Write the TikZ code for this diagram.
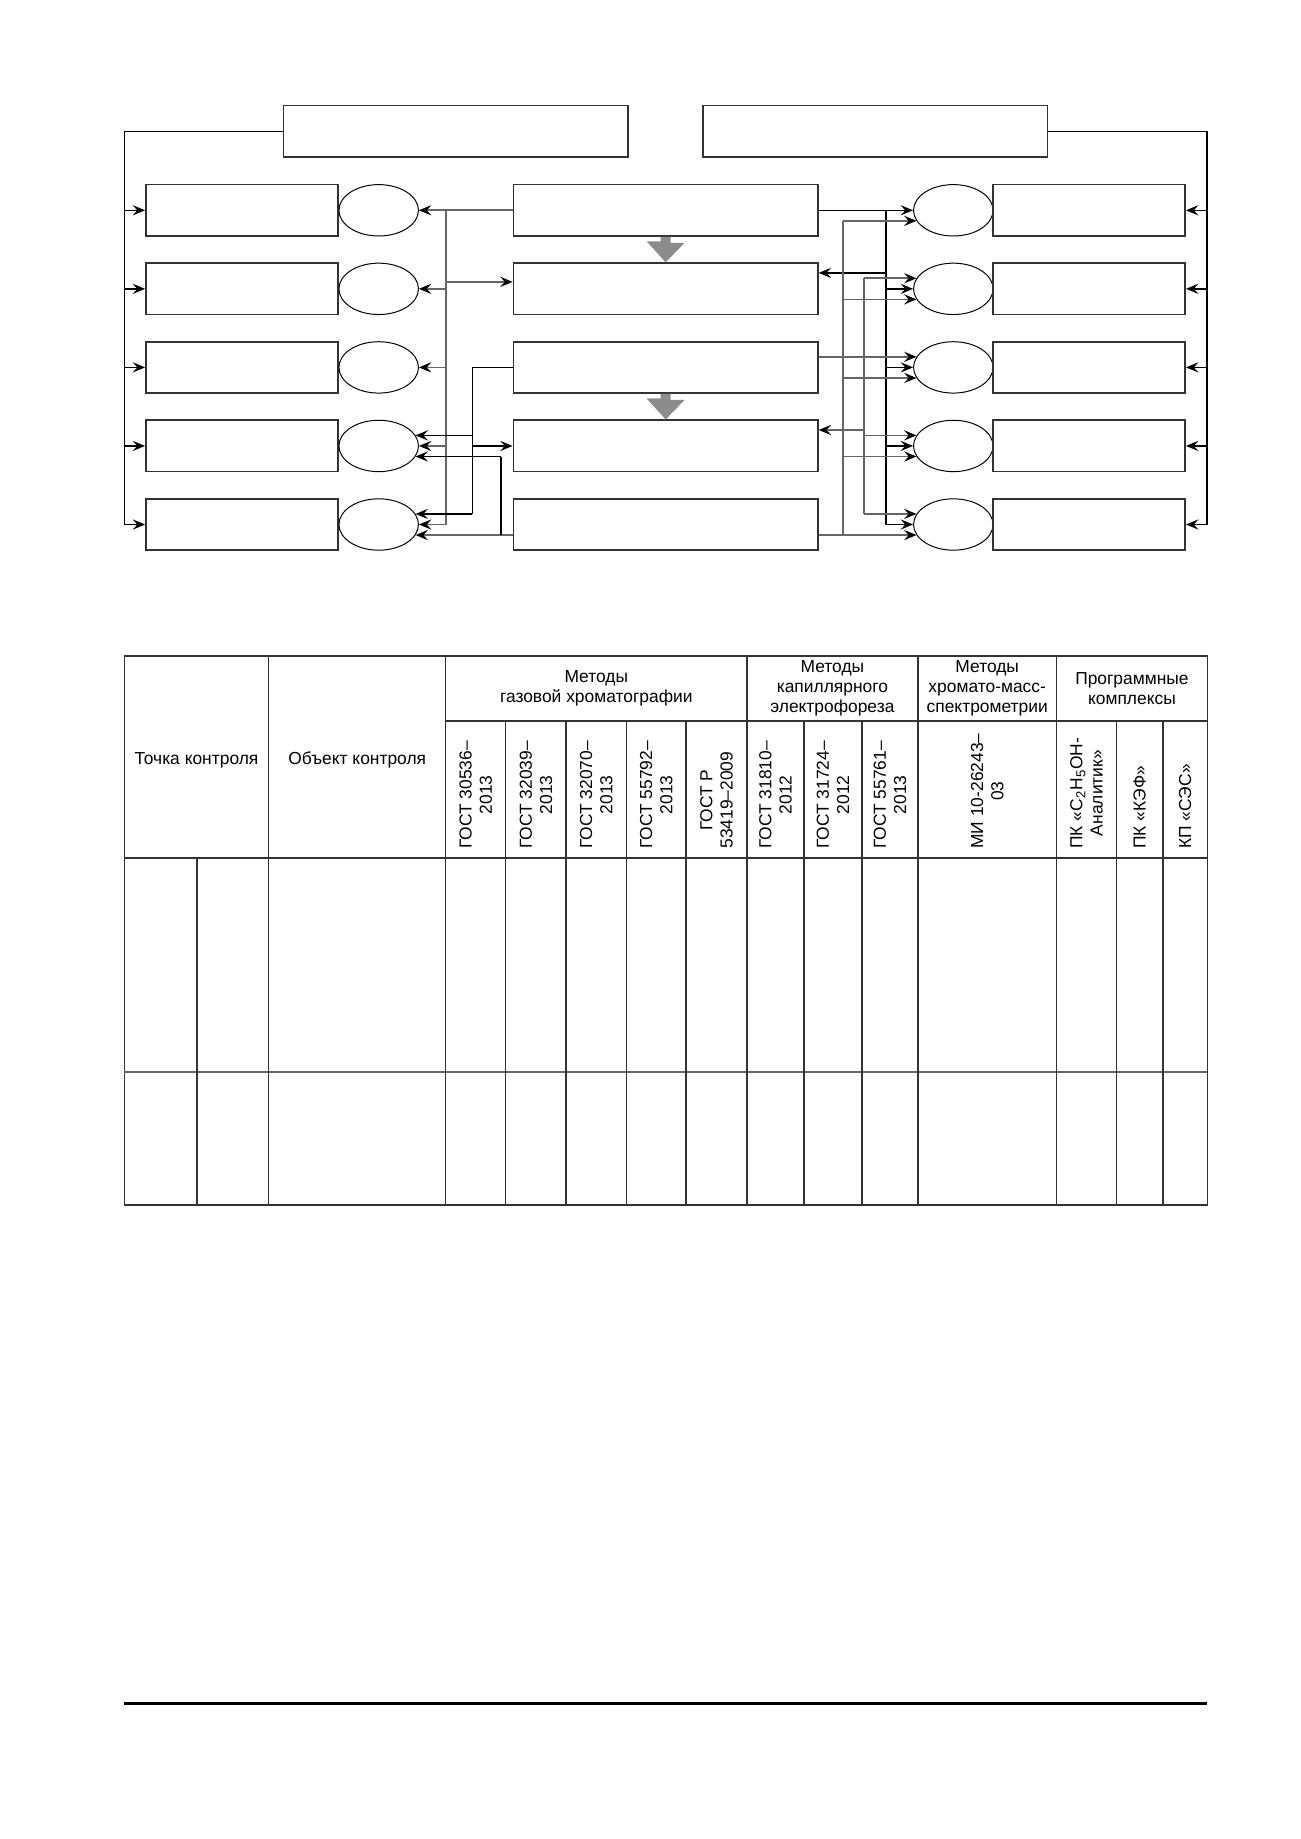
\documentclass[tikz,border=0pt]{standalone}
\usepackage{fontspec}
\setmainfont{Liberation Sans}
\usepackage{xcolor}
\usetikzlibrary{positioning, shapes.geometric, arrows.meta}
\definecolor{lineGray}{HTML}{666666}
\definecolor{blockGray}{HTML}{8C8C8E}
\definecolor{boxLine}{HTML}{333333}

\begin{document}
\begin{tikzpicture}[
  x=0.16154mm, y=-0.16154mm,
  font=\fontsize{8}{9.3}\selectfont,
  arr/.style={-{Stealth[length=2.0mm, width=1.65mm, inset=0.75mm, color=black]}},
  conn/.style={line width=0.22mm, black},
  conng/.style={line width=0.26mm, lineGray},
  sidebox/.style={draw=boxLine, line width=0.26mm, minimum width=31.05mm, minimum height=8.3mm, inner sep=0pt},
  centerbox/.style={sidebox, minimum width=49.19mm},
  headbox/.style={sidebox, minimum width=55.63mm, minimum height=8.29mm},
  ovalnode/.style={draw, ellipse, line width=0.16mm, minimum width=12.85mm, minimum height=8.3mm, inner sep=0pt},
  tline/.style={line width=0.24mm, boxLine},
  vtext/.style={rotate=90, anchor=west, align=center, inner sep=0pt}
]
  \useasboundingbox (0,0) rectangle (1300,1839);

  % --- Верхние блоки ---
  \node[headbox] (hl) at (455.6,131.35) {};
  \node[headbox] (hr) at (875.2,131.35) {};

  % --- Ряды: блок, овал, центральный блок, овал, блок ---
  \foreach \i in {1,...,5} {
    \pgfmathsetmacro{\ry}{210.3+78.55*(\i-1)}
    \node[sidebox]   (lb\i) at (242,\ry)    {};
    \node[ovalnode]  (le\i) at (378.7,\ry)  {};
    \node[centerbox] (cb\i) at (665.65,\ry) {};
    \node[ovalnode]  (re\i) at (953.3,\ry)  {};
    \node[sidebox]   (rb\i) at (1089.1,\ry) {};
  }

  % Вертикальные шины
  \coordinate (tl) at (124.2,0);
  \coordinate (tr) at (1207,0);
  \coordinate (gl) at (445.7,0);
  \coordinate (bl) at (472.3,0);
  \coordinate (vl) at (501,0);
  \coordinate (gr) at (842.8,0);
  \coordinate (mr) at (864.1,0);
  \coordinate (br) at (885.9,0);

  % --- Внешние линии ---
  \draw[conn] (hl.west) -| (tl |- lb5.west);
  \draw[conn] (hr.east) -| (tr |- rb5.east);
  \foreach \i in {1,...,5} {
    \draw[conn, arr] (tl |- lb\i.west) -- (lb\i.west);
    \draw[conn, arr] (tr |- rb\i.east) -- (rb\i.east);
  }

  % --- Левая сторона ---
  \coordinate (c2l) at ([yshift=1.13mm]cb2.west);
  \draw[conng, arr] (cb1.west) -- (le1.east);
  \draw[conng] (gl |- cb1.west) -- (gl |- le5.east);
  \foreach \i in {2,...,5}
    \draw[conng, arr] (gl |- le\i.east) -- (le\i.east);
  \draw[conng, arr] (gl |- c2l) -- (c2l);

  \draw[conn] (cb3.west) -| (bl |- le5.16);
  \draw[conn, arr] (bl |- le5.16) -- (le5.16);
  \draw[conn, arr] (bl |- le4.16) -- (le4.16);
  \draw[conn, arr] (bl |- cb4.west) -- (cb4.west);

  \draw[conng, arr] (cb5.west |- le5.-16) -- (le5.-16);
  \draw[conn] (vl |- le5.-16) -- (vl |- le4.-16);
  \draw[conn, arr] (vl |- le4.-16) -- (le4.-16);

  % --- Правая сторона ---
  \coordinate (c2r) at ([yshift=2.58mm]cb2.east);
  \coordinate (c4r) at ([yshift=2.58mm]cb4.east);
  \draw[conn, arr] (cb1.east) -- (re1.west);
  \draw[conn] (br |- cb1.east) -- (br |- re5.west);
  \draw[conn, arr] (br |- c2r) -- (c2r);
  \foreach \i in {2,...,5}
    \draw[conn, arr] (br |- re\i.west) -- (re\i.west);

  \draw[conng, arr] (cb3.east |- re3.164) -- (re3.164);
  \draw[conng] (mr |- re2.164) -- (mr |- re5.164);
  \foreach \i in {2,4,5}
    \draw[conng, arr] (mr |- re\i.164) -- (re\i.164);
  \draw[conng, arr] (mr |- c4r) -- (c4r);

  \draw[conng, arr] (cb5.east |- re5.196) -- (re5.196);
  \draw[conng] (gr |- re5.196) -- (gr |- re1.196);
  \foreach \i in {1,...,4}
    \draw[conng, arr] (gr |- re\i.196) -- (re\i.196);

  % --- Серые стрелки между центральными блоками ---
  \foreach \a/\b in {cb1/cb2, cb3/cb4}
    \fill[blockGray] ([xshift=-0.81mm]\a.south) -- ++(10,0) -- ++(0,6) -- ++(14,0)
      -- (\b.north) -- ++(-19,-21) -- ++(14,0) -- cycle;

  % --- Таблица ---
  \draw[tline] (124.4,656) rectangle (1207.3,1205);
  \draw[tline, line width=0.34mm] (124.4,858) -- (1207.3,858);
  \draw[tline] (445.7,721) -- (1207.3,721);
  \draw[lineGray, line width=0.4mm] (124.4,1072) -- (1207.3,1072);
  \foreach \cx in {268.6, 445.7, 746.8, 918, 1056.4}
    \draw[tline] (\cx,656) -- (\cx,1205);
  \foreach \cx in {505.7, 566, 626.4, 686, 804, 861.8, 1116.4, 1162.9}
    \draw[tline] (\cx,721) -- (\cx,1205);
  \draw[tline] (196.8,858) -- (196.8,1205);

  \node (tpoint) at (196.5,760) {Точка контроля};
  \node (tobj)   at (357.2,760) {Объект контроля};

  \node[align=center] (g1) at (596.3,688.5) {Методы\\газовой хроматографии};
  \node[align=center] (g2) at (832.4,688.5) {Методы\\капиллярного\\электрофореза};
  \node[align=center] (g3) at (987.2,688.5) {Методы\\хромато-масс-\\спектрометрии};
  \node[align=center] (g4) at (1131.9,688.5) {Программные\\комплексы};

  \node[vtext] (m1)  at (475.7,849)  {ГОСТ 30536–\\2013};
  \node[vtext] (m2)  at (535.9,849)  {ГОСТ 32039–\\2013};
  \node[vtext] (m3)  at (596.2,849)  {ГОСТ 32070–\\2013};
  \node[vtext] (m4)  at (656.2,849)  {ГОСТ 55792–\\2013};
  \node[vtext] (m5)  at (716.4,849)  {ГОСТ Р\\53419–2009};
  \node[vtext] (m6)  at (775.4,849)  {ГОСТ 31810–\\2012};
  \node[vtext] (m7)  at (832.9,849)  {ГОСТ 31724–\\2012};
  \node[vtext] (m8)  at (889.9,849)  {ГОСТ 55761–\\2013};
  \node[vtext] (m9)  at (987.2,849)  {МИ 10-26243–\\03};
  \node[vtext] (m10) at (1086.4,849) {ПК «C\textsubscript{2}H\textsubscript{5}OH-\\Аналитик»};
  \node[vtext] (m11) at (1139.7,849) {ПК «КЭФ»};
  \node[vtext] (m12) at (1185.1,849) {КП «СЭС»};

  % --- Нижняя линия ---
  \draw[black, line width=0.5mm] (124.4,1703.5) -- (1207.3,1703.5);
\end{tikzpicture}
\end{document}
